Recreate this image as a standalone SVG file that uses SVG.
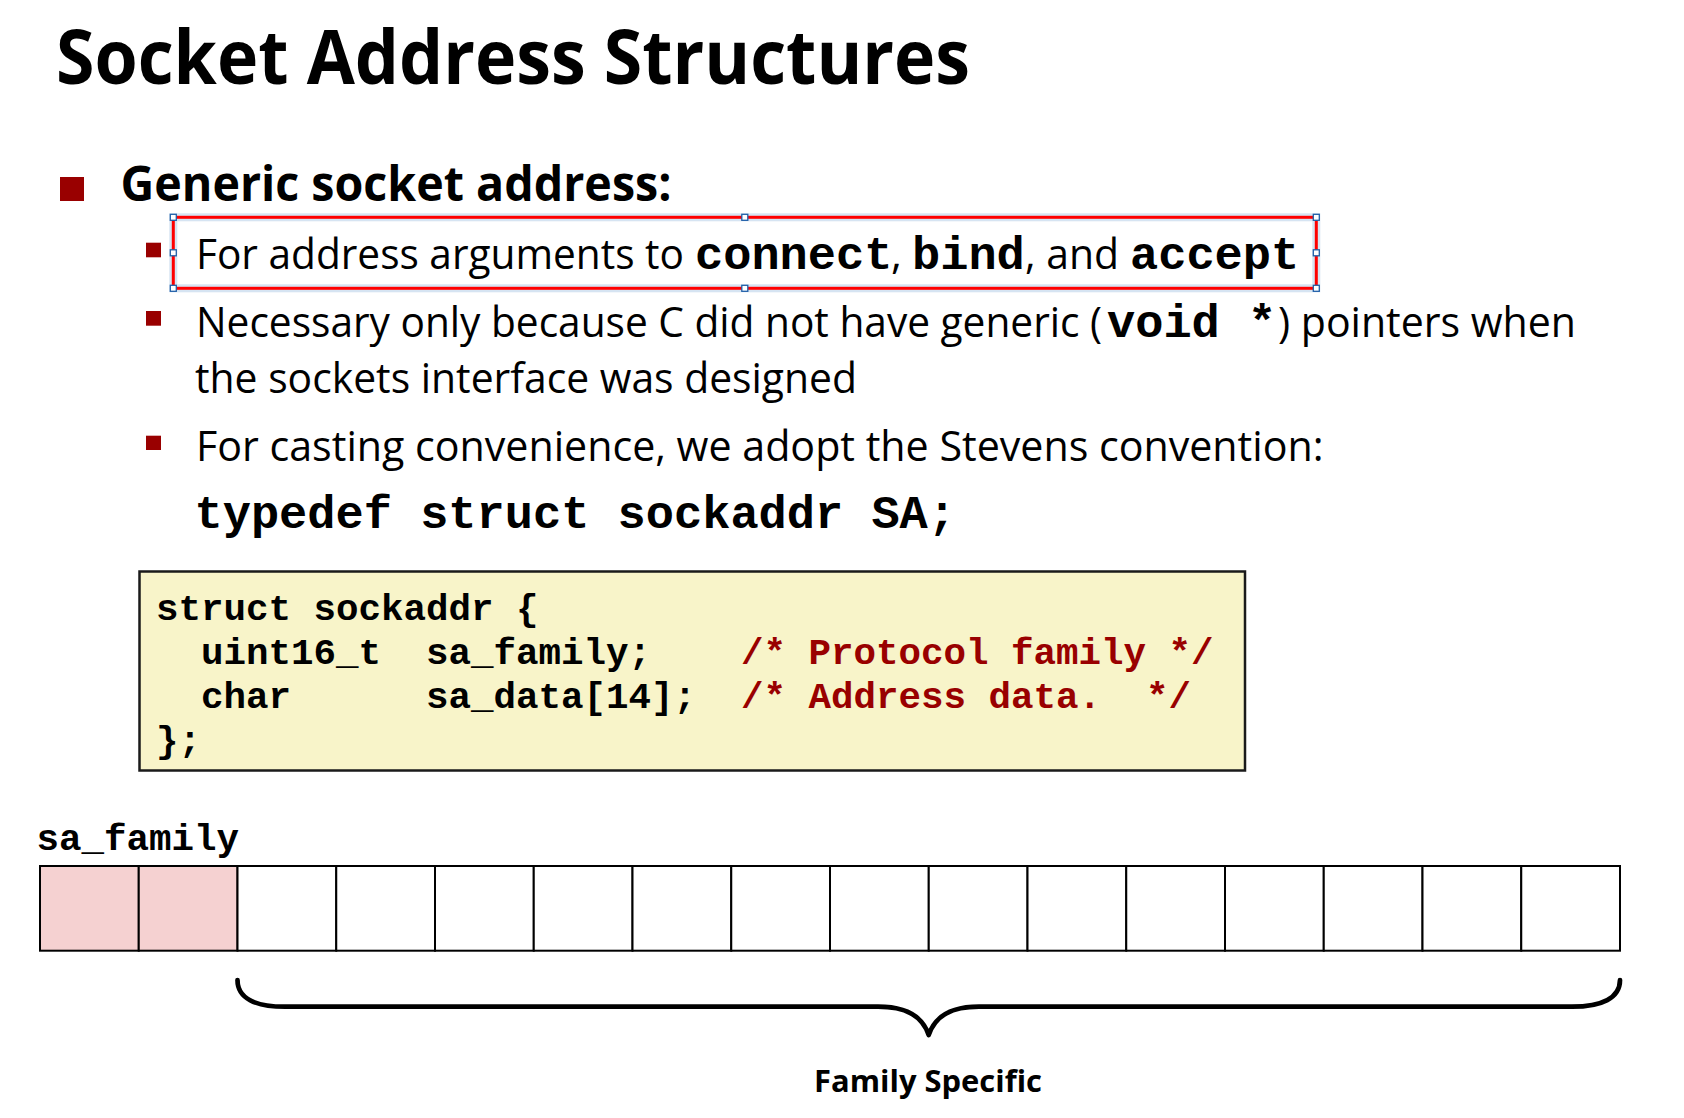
<svg xmlns="http://www.w3.org/2000/svg" width="1684" height="1118" viewBox="0 0 1684 1118">
<style>
.sans{font-family:"Open Sans","Liberation Sans",sans-serif;fill:#000}
.b{font-weight:700}
.mono{font-family:"Liberation Mono","DejaVu Sans Mono",monospace;font-weight:700;fill:#000}
.body{font-size:42px}
.m47{font-size:47px}
.code{font-size:37.5px}
.cmt{fill:#990000}
.blt{fill:#990000}
.cell{stroke:#000;stroke-width:2;fill:#fff}
.pink{fill:#F5D1D1}
.hdl{fill:#fff;stroke:#1F5FA8;stroke-width:1.3}
</style>
<rect width="1684" height="1118" fill="#fff"/>

<g id="title">
<text class="sans b" x="56" y="84" font-size="76" textLength="914" lengthAdjust="spacingAndGlyphs">Socket Address Structures</text>
</g>

<g id="heading">
<rect class="blt" x="60" y="177" width="24" height="24"/>
<text class="sans b" x="120.5" y="201" font-size="47.5" textLength="551" lengthAdjust="spacingAndGlyphs">Generic socket address:</text>
</g>

<g id="selection">
<rect x="173.3" y="217.3" width="1143" height="71" fill="none" stroke="#D6E4F2" stroke-width="8"/>
<rect x="173.3" y="217.3" width="1143" height="71" fill="none" stroke="#FF0000" stroke-width="3"/>
<rect class="hdl" x="170.3" y="214.3" width="6" height="6"/>
<rect class="hdl" x="741.8" y="214.3" width="6" height="6"/>
<rect class="hdl" x="1313.3" y="214.3" width="6" height="6"/>
<rect class="hdl" x="170.3" y="249.8" width="6" height="6"/>
<rect class="hdl" x="1313.3" y="249.8" width="6" height="6"/>
<rect class="hdl" x="170.3" y="285.3" width="6" height="6"/>
<rect class="hdl" x="741.8" y="285.3" width="6" height="6"/>
<rect class="hdl" x="1313.3" y="285.3" width="6" height="6"/>
</g>

<g id="bullet1">
<rect class="blt" x="146" y="242.7" width="15" height="14.6"/>
<text class="sans body" y="269"><tspan x="196" textLength="488" lengthAdjust="spacingAndGlyphs">For address arguments to</tspan><tspan class="mono m47" x="695">connect</tspan><tspan x="891">,</tspan><tspan class="mono m47" x="912">bind</tspan><tspan x="1025" textLength="94" lengthAdjust="spacingAndGlyphs">, and</tspan><tspan class="mono m47" x="1130">accept</tspan></text>
</g>

<g id="bullet2">
<rect class="blt" x="146" y="311" width="15" height="14.7"/>
<text class="sans body" y="336.7"><tspan x="196" textLength="906" lengthAdjust="spacingAndGlyphs">Necessary only because C did not have generic (</tspan><tspan class="mono m47" x="1107">void *</tspan><tspan x="1278" textLength="298" lengthAdjust="spacingAndGlyphs">) pointers when</tspan></text>
<text class="sans body" x="195" y="393.3" textLength="662" lengthAdjust="spacingAndGlyphs">the sockets interface was designed</text>
</g>

<g id="bullet3">
<rect class="blt" x="146" y="435.7" width="15" height="14.3"/>
<text class="sans body" x="196" y="460.7" textLength="1127.5" lengthAdjust="spacingAndGlyphs">For casting convenience, we adopt the Stevens convention:</text>
<text class="mono m47" x="194.5" y="528.3">typedef struct sockaddr SA;</text>
</g>

<g id="codebox">
<rect x="139.5" y="571.5" width="1105.5" height="199" fill="#F8F4C9" stroke="#1a1a1a" stroke-width="2.5"/>
<text class="mono code" x="156" y="620">struct sockaddr {</text>
<text class="mono code" x="201" y="664">uint16_t</text>
<text class="mono code" x="426" y="664">sa_family;</text>
<text class="mono code cmt" x="741" y="664">/* Protocol family */</text>
<text class="mono code" x="201" y="708">char</text>
<text class="mono code" x="426" y="708">sa_data[14];</text>
<text class="mono code cmt" x="741" y="708">/* Address data.</text>
<text class="mono code cmt" x="1146" y="708">*/</text>
<text class="mono code" x="156" y="752">};</text>
</g>

<g id="sa_family_label">
<text class="mono code" x="36.5" y="850">sa_family</text>
</g>

<g id="bytes">
<rect class="cell pink" x="40" y="866" width="98.75" height="84.7"/>
<rect class="cell pink" x="138.75" y="866" width="98.75" height="84.7"/>
<rect class="cell" x="237.5" y="866" width="98.75" height="84.7"/>
<rect class="cell" x="336.25" y="866" width="98.75" height="84.7"/>
<rect class="cell" x="435" y="866" width="98.75" height="84.7"/>
<rect class="cell" x="533.75" y="866" width="98.75" height="84.7"/>
<rect class="cell" x="632.5" y="866" width="98.75" height="84.7"/>
<rect class="cell" x="731.25" y="866" width="98.75" height="84.7"/>
<rect class="cell" x="830" y="866" width="98.75" height="84.7"/>
<rect class="cell" x="928.75" y="866" width="98.75" height="84.7"/>
<rect class="cell" x="1027.5" y="866" width="98.75" height="84.7"/>
<rect class="cell" x="1126.25" y="866" width="98.75" height="84.7"/>
<rect class="cell" x="1225" y="866" width="98.75" height="84.7"/>
<rect class="cell" x="1323.75" y="866" width="98.75" height="84.7"/>
<rect class="cell" x="1422.5" y="866" width="98.75" height="84.7"/>
<rect class="cell" x="1521.25" y="866" width="98.75" height="84.7"/>
</g>

<g id="connectors">
<path d="M 237.5 980 C 237.5 998 255 1006.7 285 1006.7 L 878 1006.7 C 905 1006.7 922 1015 928.7 1035 C 935.5 1015 952 1006.7 979 1006.7 L 1572 1006.7 C 1602 1006.7 1620 998 1620 980" fill="none" stroke="#000" stroke-width="4.7" stroke-linecap="round" stroke-linejoin="round"/>
</g>

<g id="family_specific">
<text class="sans b" x="814" y="1091.7" font-size="30.5" textLength="228" lengthAdjust="spacingAndGlyphs">Family Specific</text>
</g>
</svg>
